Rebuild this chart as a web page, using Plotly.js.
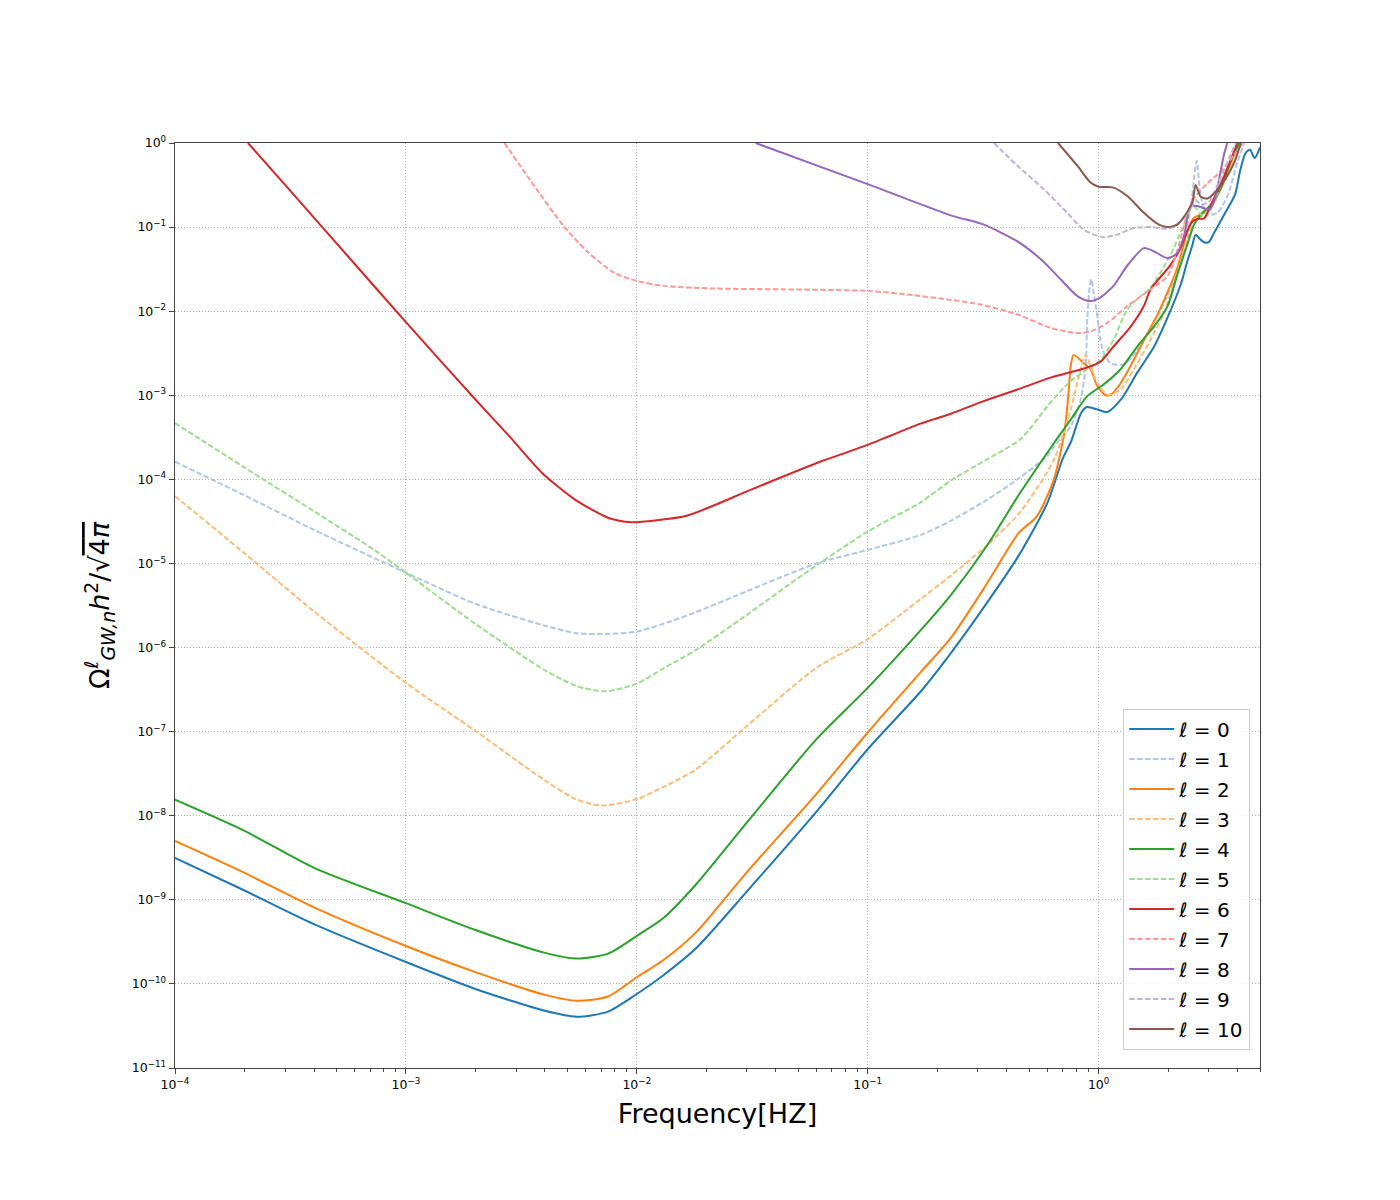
<!DOCTYPE html>
<html>
<head>
<meta charset="utf-8">
<script src="https://cdn.plot.ly/plotly-3.0.1.min.js"></script>
<style>
  html, body { margin: 0; padding: 0; background: #ffffff; }
  #chart { width: 1400px; height: 1200px; }
</style>
</head>
<body>
<div id="chart"></div>
<script>
// frequencies [Hz] and Omega^l_GW,n h^2 / sqrt(4 pi)
const freqL0 = [1e-4, 2e-4, 4e-4, 1e-3, 2e-3, 4e-3, 5.5e-3, 7.5e-3, 1e-2, 1.3e-2, 1.8e-2, 3e-2, 6e-2, 0.1, 0.17, 0.23, 0.33, 0.45, 0.6, 0.7, 0.76, 0.84, 0.89, 0.99, 1.09, 1.25, 1.47, 1.74, 2.0, 2.27, 2.42, 2.55, 2.63, 2.72, 2.86, 3.0, 3.16, 3.5, 3.9, 4.1, 4.33, 4.53, 4.74, 5.0];
const omegaL0 = [3.16e-9, 1.29e-9, 5.13e-10, 1.82e-10, 8.71e-11, 4.79e-11, 4.07e-11, 4.68e-11, 7.59e-11, 1.26e-10, 2.63e-10, 1.26e-9, 1.12e-8, 6.17e-8, 3.02e-7, 8.71e-7, 3.47e-6, 1.23e-5, 5.25e-5, 1.78e-4, 2.82e-4, 6.17e-4, 7.24e-4, 6.76e-4, 6.31e-4, 8.91e-4, 1.86e-3, 3.80e-3, 8.71e-3, 2.09e-2, 3.89e-2, 6.17e-2, 8.13e-2, 7.41e-2, 6.61e-2, 6.61e-2, 8.51e-2, 0.141, 0.245, 0.468, 0.759, 0.832, 0.661, 0.891];

const freqL1 = [1e-4, 2e-4, 4e-4, 1e-3, 2e-3, 4e-3, 5.5e-3, 7.5e-3, 1e-2, 1.3e-2, 1.8e-2, 3e-2, 6e-2, 0.1, 0.17, 0.23, 0.33, 0.45, 0.6, 0.64, 0.757, 0.836, 0.879, 0.893, 0.912, 0.929, 0.955, 0.986, 1.038, 1.127, 1.288, 1.472, 1.795, 2.193, 2.506, 2.661, 2.767, 2.958, 3.266, 3.614, 3.99, 4.266];
const omegaL1 = [1.62e-4, 6.46e-5, 2.51e-5, 7.76e-6, 3.31e-6, 1.82e-6, 1.48e-6, 1.45e-6, 1.55e-6, 1.91e-6, 2.63e-6, 4.68e-6, 1.0e-5, 1.45e-5, 2.19e-5, 3.24e-5, 5.75e-5, 1.02e-4, 1.91e-4, 2.45e-4, 4.27e-4, 8.91e-4, 2.24e-3, 7.94e-3, 1.78e-2, 2.40e-2, 1.58e-2, 8.91e-3, 3.55e-3, 2.40e-3, 2.34e-3, 3.47e-3, 8.71e-3, 2.88e-2, 0.178, 0.617, 0.234, 0.141, 0.148, 0.234, 0.589, 1.0];

const freqL2 = [1e-4, 2e-4, 4e-4, 1e-3, 2e-3, 4e-3, 5.5e-3, 7.5e-3, 1e-2, 1.3e-2, 1.8e-2, 3e-2, 6e-2, 0.1, 0.17, 0.23, 0.33, 0.45, 0.54, 0.64, 0.71, 0.743, 0.757, 0.78, 0.863, 0.923, 0.986, 1.07, 1.13, 1.25, 1.42, 1.63, 1.8, 2.19, 2.42, 2.59, 2.77, 3.05, 3.38, 3.86, 4.02];
const omegaL2 = [5.01e-9, 2.09e-9, 8.13e-10, 2.82e-10, 1.38e-10, 7.41e-11, 6.31e-11, 7.08e-11, 1.2e-10, 1.91e-10, 4.07e-10, 2.14e-9, 1.82e-8, 9.77e-8, 5.13e-7, 1.32e-6, 5.89e-6, 2.29e-5, 3.63e-5, 1.0e-4, 3.55e-4, 1.17e-3, 2.24e-3, 3.02e-3, 2.40e-3, 2.04e-3, 1.29e-3, 1.0e-3, 1.02e-3, 1.41e-3, 2.63e-3, 5.5e-3, 9.12e-3, 3.24e-2, 8.91e-2, 0.129, 0.141, 0.170, 0.288, 0.724, 1.0];

const freqL3 = [1e-4, 2e-4, 4e-4, 1e-3, 2e-3, 4e-3, 5.5e-3, 7.1e-3, 1e-2, 1.3e-2, 1.8e-2, 3e-2, 6e-2, 0.1, 0.17, 0.23, 0.33, 0.46, 0.64, 0.757, 0.822, 0.879, 0.923, 0.986, 1.09, 1.245, 1.42, 1.74, 1.92, 2.19, 2.42, 2.59, 2.77, 3.05, 3.38, 3.86, 4.07];
const omegaL3 = [6.31e-5, 1.32e-5, 2.69e-6, 3.8e-7, 1.02e-7, 2.63e-8, 1.55e-8, 1.32e-8, 1.58e-8, 2.19e-8, 3.55e-8, 1.17e-7, 5.75e-7, 1.26e-6, 3.8e-6, 7.24e-6, 1.66e-5, 4.17e-5, 1.7e-4, 6.76e-4, 1.7e-3, 3.02e-3, 2.24e-3, 1.41e-3, 1.02e-3, 1.17e-3, 2.04e-3, 5.5e-3, 9.55e-3, 2.82e-2, 7.08e-2, 0.120, 0.135, 0.166, 0.275, 0.661, 1.0];

const freqL4 = [1e-4, 2e-4, 4e-4, 1e-3, 2e-3, 4e-3, 5.5e-3, 7.5e-3, 1e-2, 1.3e-2, 1.8e-2, 3e-2, 6e-2, 0.1, 0.17, 0.23, 0.33, 0.45, 0.64, 0.757, 0.893, 1.054, 1.245, 1.47, 1.74, 1.99, 2.19, 2.42, 2.59, 2.77, 3.05, 3.38, 3.73, 4.06];
const omegaL4 = [1.55e-8, 6.61e-9, 2.4e-9, 9.12e-10, 4.37e-10, 2.34e-10, 2.0e-10, 2.29e-10, 3.72e-10, 6.03e-10, 1.51e-9, 8.32e-9, 8.13e-8, 3.31e-7, 1.62e-6, 4.27e-6, 1.66e-5, 6.46e-5, 2.69e-4, 5.13e-4, 9.77e-4, 1.35e-3, 2.04e-3, 3.8e-3, 6.61e-3, 1.15e-2, 2.69e-2, 6.17e-2, 0.107, 0.141, 0.182, 0.288, 0.603, 1.0];

const freqL5 = [1e-4, 2e-4, 4e-4, 7.4e-4, 1e-3, 2e-3, 4e-3, 5.5e-3, 7.3e-3, 1e-2, 1.3e-2, 1.8e-2, 3e-2, 5.2e-2, 0.1, 0.17, 0.23, 0.33, 0.46, 0.6, 0.757, 0.893, 1.02, 1.16, 1.33, 1.52, 1.68, 2.05, 2.34, 2.55, 2.68, 2.86, 3.05, 3.38, 3.86, 3.98];
const omegaL5 = [4.68e-4, 1.38e-4, 4.17e-5, 1.41e-5, 7.76e-6, 1.91e-6, 5.37e-7, 3.47e-7, 3.02e-7, 3.72e-7, 5.62e-7, 9.33e-7, 2.45e-6, 7.24e-6, 2.4e-5, 5.37e-5, 9.77e-5, 1.74e-4, 3.02e-4, 7.41e-4, 1.48e-3, 2.04e-3, 2.63e-3, 4.57e-3, 1.05e-2, 1.51e-2, 1.9e-2, 4.68e-2, 0.107, 0.182, 0.162, 0.129, 0.162, 0.316, 0.871, 1.0];

const freqL6 = [2.07e-4, 3.16e-4, 5.62e-4, 1e-3, 2e-3, 2.79e-3, 3.88e-3, 5.4e-3, 7.55e-3, 9.5e-3, 1.2e-2, 1.66e-2, 3.2e-2, 6.22e-2, 0.1, 0.168, 0.229, 0.318, 0.445, 0.62, 0.893, 1.02, 1.16, 1.38, 1.57, 1.68, 2.05, 2.265, 2.42, 2.55, 2.72, 2.86, 3.11, 3.44, 3.86, 3.98];
const omegaL6 = [1.0, 0.269, 4.47e-2, 7.41e-3, 8.91e-4, 3.31e-4, 1.2e-4, 5.75e-5, 3.47e-5, 3.09e-5, 3.24e-5, 3.72e-5, 7.76e-5, 1.62e-4, 2.57e-4, 4.57e-4, 6.03e-4, 8.51e-4, 1.17e-3, 1.62e-3, 2.14e-3, 2.51e-3, 3.8e-3, 6.61e-3, 1.15e-2, 1.82e-2, 3.55e-2, 5.62e-2, 8.91e-2, 0.117, 0.126, 0.126, 0.2, 0.363, 0.794, 1.0];

const freqL7 = [2.67e-3, 3.47e-3, 4.83e-3, 6.1e-3, 7.94e-3, 1e-2, 1.31e-2, 2.15e-2, 4.19e-2, 0.1, 0.158, 0.308, 0.445, 0.62, 0.81, 0.923, 1.09, 1.33, 1.68, 1.99, 2.19, 2.42, 2.59, 2.96, 3.38, 3.86, 4.22];
const omegaL7 = [1.0, 0.355, 0.102, 5.13e-2, 2.88e-2, 2.29e-2, 2.0e-2, 1.86e-2, 1.82e-2, 1.74e-2, 1.55e-2, 1.2e-2, 9.12e-3, 6.31e-3, 5.5e-3, 5.75e-3, 7.24e-3, 1.15e-2, 1.82e-2, 2.63e-2, 5.25e-2, 0.141, 0.219, 0.331, 0.457, 0.724, 1.0];

const freqL8 = [3.27e-2, 0.1, 0.229, 0.318, 0.445, 0.561, 0.684, 0.81, 0.908, 1.0, 1.16, 1.33, 1.57, 1.74, 1.99, 2.19, 2.34, 2.51, 2.68, 3.01, 3.16, 3.33, 3.49, 3.61];
const omegaL8 = [1.0, 0.324, 0.138, 0.107, 6.76e-2, 4.17e-2, 2.4e-2, 1.51e-2, 1.32e-2, 1.41e-2, 2.0e-2, 3.47e-2, 5.62e-2, 5.13e-2, 4.27e-2, 4.9e-2, 7.76e-2, 0.178, 0.178, 0.162, 0.2, 0.38, 0.724, 1.0];

const freqL9 = [0.352, 0.445, 0.579, 0.731, 0.863, 1.038, 1.205, 1.42, 1.68, 1.99, 2.12, 2.42, 2.63, 2.77, 3.01, 3.27, 3.73, 3.93];
const omegaL9 = [1.0, 0.537, 0.282, 0.148, 9.33e-2, 7.59e-2, 8.13e-2, 9.77e-2, 0.1, 9.55e-2, 0.102, 0.141, 0.209, 0.186, 0.2, 0.316, 0.724, 1.0];

const freqL10 = [0.667, 0.809, 0.923, 1.0, 1.16, 1.33, 1.57, 1.795, 1.99, 2.19, 2.42, 2.55, 2.63, 2.77, 2.96, 3.16, 3.44, 3.86, 4.13];
const omegaL10 = [1.0, 0.537, 0.339, 0.302, 0.295, 0.234, 0.148, 0.11, 0.1, 0.107, 0.151, 0.2, 0.316, 0.229, 0.219, 0.251, 0.331, 0.575, 1.0];

const SERIES_NAMES = ["0", "1", "2", "3", "4", "5", "6", "7", "8", "9", "10"];
const SERIES_COLORS = [
  "#1f77b4", "#aec7e8", "#ff7f0e", "#ffbb78", "#2ca02c", "#98df8a",
  "#d62728", "#ff9896", "#9467bd", "#c5b0d5", "#8c564b",
];

// decade ticks, labelled as powers of ten
const X_TICKS = [1e-4, 1e-3, 1e-2, 1e-1, 1];
const X_TICK_LABELS = ["10<sup>−4</sup>", "10<sup>−3</sup>", "10<sup>−2</sup>", "10<sup>−1</sup>", "10<sup>0</sup>"];
const Y_TICKS = [1e-11, 1e-10, 1e-9, 1e-8, 1e-7, 1e-6, 1e-5, 1e-4, 1e-3, 1e-2, 1e-1, 1];
const Y_TICK_LABELS = [
  "10<sup>−11</sup>", "10<sup>−10</sup>", "10<sup>−9</sup>", "10<sup>−8</sup>",
  "10<sup>−7</sup>", "10<sup>−6</sup>", "10<sup>−5</sup>", "10<sup>−4</sup>",
  "10<sup>−3</sup>", "10<sup>−2</sup>", "10<sup>−1</sup>", "10<sup>0</sup>",
];

const freqs = [freqL0, freqL1, freqL2, freqL3, freqL4, freqL5, freqL6, freqL7, freqL8, freqL9, freqL10];
const omegas = [omegaL0, omegaL1, omegaL2, omegaL3, omegaL4, omegaL5, omegaL6, omegaL7, omegaL8, omegaL9, omegaL10];

const FONT = "DejaVu Sans, sans-serif";

// minor x ticks at 2..9 of every decade
const xMinor = [];
X_TICKS.forEach((d) => {
  for (let k = 2; k <= 9; k++) xMinor.push(d * k);
});

// odd multipoles are dashed
const data = SERIES_NAMES.map((name, i) => ({
  x: freqs[i],
  y: omegas[i],
  type: "scatter",
  mode: "lines",
  name: "<i>ℓ</i> = " + name,
  legendgroup: "l" + name,
  line: {
    color: SERIES_COLORS[i],
    width: 2,
    shape: "spline",
    smoothing: 0.7,
    dash: i % 2 === 1 ? "5.5px,2.4px" : "solid",
  },
}));

const axisCommon = {
  type: "log",
  tickmode: "array",
  showgrid: true,
  gridcolor: "#b0b0b0",
  gridwidth: 1,
  griddash: "1px,2px",
  showline: true,
  mirror: true,
  linecolor: "#444",
  linewidth: 1.3,
  ticks: "outside",
  ticklen: 5,
  tickcolor: "#444",
  tickfont: { family: FONT, size: 12.5, color: "#000" },
  zeroline: false,
};

const layout = {
  width: 1400,
  height: 1200,
  paper_bgcolor: "#ffffff",
  plot_bgcolor: "#ffffff",
  margin: { l: 175, r: 140, t: 143, b: 132 },
  showlegend: true,
  xaxis: {
    ...axisCommon,
    range: [-4, Math.log10(5)],
    tickvals: X_TICKS,
    ticktext: X_TICK_LABELS,
    minor: {
      tickmode: "array",
      tickvals: xMinor,
      ticks: "outside",
      ticklen: 3,
      tickcolor: "#444",
      showgrid: false,
    },
    title: {
      text: "Frequency[HZ]",
      font: { family: FONT, size: 27, color: "#000" },
      standoff: 12,
    },
  },
  yaxis: {
    ...axisCommon,
    range: [-11, 0],
    tickvals: Y_TICKS,
    ticktext: Y_TICK_LABELS,
    title: {
      text: "Ω<sup><i>ℓ</i></sup><sub><i>GW,n</i></sub><i>h</i><sup>2</sup>/√<span style=\"text-decoration:overline\">4<i>π</i></span>",
      font: { family: FONT, size: 27, color: "#000" },
      standoff: 14,
    },
  },
  legend: {
    x: 0.991,
    y: 0.02,
    xanchor: "right",
    yanchor: "bottom",
    bgcolor: "rgba(255,255,255,0.8)",
    bordercolor: "#cccccc",
    borderwidth: 1,
    tracegroupgap: 1,
    itemwidth: 45,
    font: { family: FONT, size: 20, color: "#000" },
  },
};

Plotly.newPlot(document.getElementById("chart"), data, layout, { staticPlot: true });
</script>
</body>
</html>
